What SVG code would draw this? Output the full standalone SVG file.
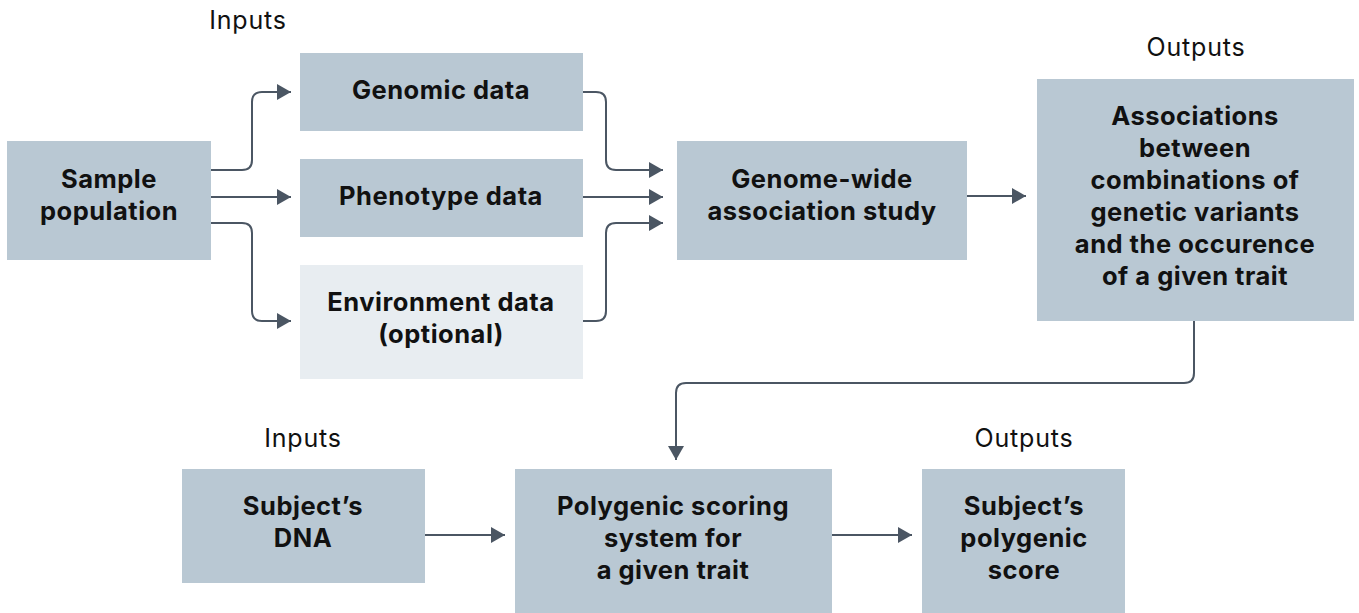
<svg xmlns="http://www.w3.org/2000/svg" width="1359" height="613" viewBox="0 0 1359 613">
<style>
.box{fill:#b9c8d3}
.light{fill:#e8edf1}
.t{font-family:Inter,"Liberation Sans",sans-serif;font-weight:700;font-size:25.5px;fill:#111;text-anchor:middle;letter-spacing:0.5px}
.lbl{font-family:Inter,"Liberation Sans",sans-serif;font-weight:400;font-size:25px;fill:#111;text-anchor:middle;letter-spacing:0.8px}
.c{fill:none;stroke:#4b5663;stroke-width:2}
</style>
<defs>
<marker id="ah" viewBox="0 0 14 16" refX="14" refY="8" markerWidth="14" markerHeight="16" markerUnits="userSpaceOnUse" orient="auto">
<path d="M0,0 L14,8 L0,16 Z" fill="#4b5663"/>
</marker>
</defs>
<text class="lbl" x="248" y="29">Inputs</text>
<text class="lbl" x="1196" y="56">Outputs</text>
<text class="lbl" x="303" y="447">Inputs</text>
<text class="lbl" x="1024" y="447">Outputs</text>
<g id="sample"><rect class="box" x="7" y="141" width="204" height="119"/><text class="t" x="109" y="188">Sample</text><text class="t" x="109" y="220">population</text></g>
<g id="genomic"><rect class="box" x="300" y="53" width="283" height="78"/><text class="t" x="441" y="99">Genomic data</text></g>
<g id="phenotype"><rect class="box" x="300" y="159" width="283" height="78"/><text class="t" x="441" y="205">Phenotype data</text></g>
<g id="environment"><rect class="light" x="300" y="265" width="283" height="114"/><text class="t" x="441" y="311">Environment data</text><text class="t" x="441" y="343">(optional)</text></g>
<g id="gwas"><rect class="box" x="677" y="141" width="290" height="119"/><text class="t" x="822" y="188">Genome-wide</text><text class="t" x="822" y="220">association study</text></g>
<g id="assoc"><rect class="box" x="1037" y="79" width="317" height="242"/>
<text class="t" x="1195" y="125">Associations</text>
<text class="t" x="1195" y="157">between</text>
<text class="t" x="1195" y="189">combinations of</text>
<text class="t" x="1195" y="221">genetic variants</text>
<text class="t" x="1195" y="253">and the occurence</text>
<text class="t" x="1195" y="285">of a given trait</text></g>
<g id="dna"><rect class="box" x="182" y="469" width="243" height="114"/><text class="t" x="303" y="515">Subject’s</text><text class="t" x="303" y="547">DNA</text></g>
<g id="pgs"><rect class="box" x="515" y="469" width="317" height="150"/><text class="t" x="673" y="515">Polygenic scoring</text><text class="t" x="673" y="547">system for</text><text class="t" x="673" y="579">a given trait</text></g>
<g id="score"><rect class="box" x="922" y="469" width="203" height="150"/><text class="t" x="1024" y="515">Subject’s</text><text class="t" x="1024" y="547">polygenic</text><text class="t" x="1024" y="579">score</text></g>
<g id="connectors">
<path class="c" marker-end="url(#ah)" d="M211,170 H242 Q252,170 252,160 V102 Q252,92 262,92 H291"/>
<path class="c" marker-end="url(#ah)" d="M211,197 H291"/>
<path class="c" marker-end="url(#ah)" d="M211,223 H242 Q252,223 252,233 V311 Q252,321 262,321 H291"/>
<path class="c" marker-end="url(#ah)" d="M583,92 H596 Q606,92 606,102 V160 Q606,170 616,170 H663"/>
<path class="c" marker-end="url(#ah)" d="M583,197 H663"/>
<path class="c" marker-end="url(#ah)" d="M583,321 H596 Q606,321 606,311 V233 Q606,223 616,223 H663"/>
<path class="c" marker-end="url(#ah)" d="M967,196 H1026"/>
<path class="c" marker-end="url(#ah)" d="M1194,321 V373 Q1194,383 1184,383 H686 Q676,383 676,393 V460"/>
<path class="c" marker-end="url(#ah)" d="M425,535 H505"/>
<path class="c" marker-end="url(#ah)" d="M832,535 H912"/>
</g>
</svg>
